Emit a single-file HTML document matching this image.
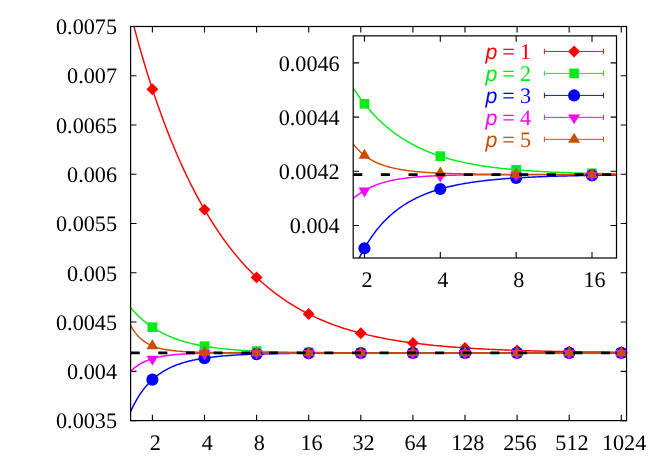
<!DOCTYPE html>
<html><head><meta charset="utf-8"><title>chart</title>
<style>
html,body{margin:0;padding:0;background:#fff;width:664px;height:465px;overflow:hidden}
body{font-family:"Liberation Serif",serif;position:relative}
svg text{font-family:"Liberation Serif",serif;text-rendering:geometricPrecision}
</style></head><body>
<svg width="664" height="465" viewBox="0 0 664 465" style="display:block;position:absolute;left:0;top:0;will-change:transform">
<rect width="664" height="465" fill="#fff"/>
<defs><clipPath id="cm"><rect x="130.60" y="26.50" width="495.95" height="394.10"/></clipPath>
<clipPath id="ci"><rect x="353.20" y="35.85" width="263.30" height="222.15"/></clipPath></defs>
<path d="M152.40,420.60 v-5.90 M152.40,26.50 v5.90 M204.50,420.60 v-5.90 M204.50,26.50 v5.90 M256.60,420.60 v-5.90 M256.60,26.50 v5.90 M308.70,420.60 v-5.90 M308.70,26.50 v5.90 M360.80,420.60 v-5.90 M360.80,26.50 v5.90 M412.90,420.60 v-5.90 M412.90,26.50 v5.90 M465.00,420.60 v-5.90 M465.00,26.50 v5.90 M517.10,420.60 v-5.90 M517.10,26.50 v5.90 M569.20,420.60 v-5.90 M569.20,26.50 v5.90 M621.30,420.60 v-5.90 M621.30,26.50 v5.90 M130.60,420.60 h5.90 M626.55,420.60 h-5.90 M130.60,371.34 h5.90 M626.55,371.34 h-5.90 M130.60,322.07 h5.90 M626.55,322.07 h-5.90 M130.60,272.81 h5.90 M626.55,272.81 h-5.90 M130.60,223.55 h5.90 M626.55,223.55 h-5.90 M130.60,174.29 h5.90 M626.55,174.29 h-5.90 M130.60,125.02 h5.90 M626.55,125.02 h-5.90 M130.60,75.76 h5.90 M626.55,75.76 h-5.90 M130.60,26.50 h5.90 M626.55,26.50 h-5.90" stroke="#000" stroke-width="1.1" fill="none"/>
<g clip-path="url(#cm)" fill="none" stroke-width="1.45">
<path d="M128.23,3.48 L130.31,12.01 L132.39,20.28 L134.48,28.32 L136.56,36.13 L138.64,43.73 L140.72,51.12 L142.81,58.32 L144.89,65.33 L146.97,72.16 L149.05,78.83 L151.14,85.33 L153.22,91.68 L155.30,97.87 L157.38,103.92 L159.47,109.82 L161.55,115.59 L163.63,121.23 L165.71,126.74 L167.80,132.13 L169.88,137.39 L171.96,142.54 L174.04,147.57 L176.13,152.49 L178.21,157.30 L180.29,162.01 L182.37,166.61 L184.46,171.10 L186.54,175.50 L188.62,179.80 L190.70,184.01 L192.79,188.12 L194.87,192.14 L196.95,196.07 L199.03,199.92 L201.12,203.67 L203.20,207.35 L205.28,210.94 L207.36,214.45 L209.45,217.88 L211.53,221.23 L213.61,224.51 L215.69,227.71 L217.78,230.84 L219.86,233.89 L221.94,236.88 L224.02,239.79 L226.11,242.64 L228.19,245.42 L230.27,248.14 L232.35,250.79 L234.44,253.38 L236.52,255.91 L238.60,258.38 L240.68,260.79 L242.77,263.15 L244.85,265.44 L246.93,267.69 L249.02,269.87 L251.10,272.01 L253.18,274.09 L255.26,276.12 L257.35,278.11 L259.43,280.04 L261.51,281.93 L263.59,283.77 L265.68,285.57 L267.76,287.32 L269.84,289.02 L271.92,290.69 L274.01,292.31 L276.09,293.90 L278.17,295.44 L280.25,296.95 L282.34,298.41 L284.42,299.84 L286.50,301.24 L288.58,302.60 L290.67,303.92 L292.75,305.21 L294.83,306.47 L296.91,307.70 L299.00,308.89 L301.08,310.06 L303.16,311.19 L305.24,312.29 L307.33,313.37 L309.41,314.42 L311.49,315.44 L313.57,316.44 L315.66,317.41 L317.74,318.35 L319.82,319.27 L321.90,320.17 L323.99,321.04 L326.07,321.89 L328.15,322.72 L330.23,323.53 L332.32,324.31 L334.40,325.08 L336.48,325.82 L338.56,326.55 L340.65,327.25 L342.73,327.94 L344.81,328.61 L346.89,329.26 L348.98,329.90 L351.06,330.52 L353.14,331.12 L355.22,331.70 L357.31,332.27 L359.39,332.83 L361.47,333.37 L363.55,333.90 L365.64,334.41 L367.72,334.91 L369.80,335.39 L371.88,335.86 L373.97,336.32 L376.05,336.77 L378.13,337.21 L380.21,337.63 L382.30,338.04 L384.38,338.44 L386.46,338.84 L388.54,339.22 L390.63,339.59 L392.71,339.95 L394.79,340.30 L396.87,340.64 L398.96,340.97 L401.04,341.29 L403.12,341.61 L405.20,341.91 L407.29,342.21 L409.37,342.50 L411.45,342.78 L413.54,343.06 L415.62,343.32 L417.70,343.58 L419.78,343.84 L421.87,344.08 L423.95,344.32 L426.03,344.56 L428.11,344.78 L430.20,345.00 L432.28,345.22 L434.36,345.43 L436.44,345.63 L438.53,345.83 L440.61,346.02 L442.69,346.21 L444.77,346.39 L446.86,346.57 L448.94,346.74 L451.02,346.91 L453.10,347.07 L455.19,347.23 L457.27,347.38 L459.35,347.53 L461.43,347.68 L463.52,347.82 L465.60,347.96 L467.68,348.09 L469.76,348.22 L471.85,348.35 L473.93,348.47 L476.01,348.60 L478.09,348.71 L480.18,348.83 L482.26,348.94 L484.34,349.05 L486.42,349.15 L488.51,349.25 L490.59,349.35 L492.67,349.45 L494.75,349.54 L496.84,349.63 L498.92,349.72 L501.00,349.81 L503.08,349.89 L505.17,349.98 L507.25,350.06 L509.33,350.13 L511.41,350.21 L513.50,350.28 L515.58,350.35 L517.66,350.42 L519.74,350.49 L521.83,350.56 L523.91,350.62 L525.99,350.68 L528.07,350.74 L530.16,350.80 L532.24,350.86 L534.32,350.91 L536.40,350.97 L538.49,351.02 L540.57,351.07 L542.65,351.12 L544.73,351.17 L546.82,351.22 L548.90,351.26 L550.98,351.31 L553.06,351.35 L555.15,351.39 L557.23,351.44 L559.31,351.48 L561.39,351.51 L563.48,351.55 L565.56,351.59 L567.64,351.63 L569.72,351.66 L571.81,351.69 L573.89,351.73 L575.97,351.76 L578.05,351.79 L580.14,351.82 L582.22,351.85 L584.30,351.88 L586.39,351.91 L588.47,351.93 L590.55,351.96 L592.63,351.99 L594.72,352.01 L596.80,352.03 L598.88,352.06 L600.96,352.08 L603.05,352.10 L605.13,352.13 L607.21,352.15 L609.29,352.17 L611.38,352.19 L613.46,352.21 L615.54,352.23 L617.62,352.24 L619.71,352.26 L621.79,352.28 L623.87,352.30 L625.95,352.31 L628.04,352.33" stroke="#ff0000"/>
<path d="M128.23,304.93 L130.31,307.44 L132.39,309.82 L134.48,312.07 L136.56,314.21 L138.64,316.23 L140.72,318.15 L142.81,319.97 L144.89,321.69 L146.97,323.33 L149.05,324.87 L151.14,326.34 L153.22,327.73 L155.30,329.05 L157.38,330.30 L159.47,331.48 L161.55,332.60 L163.63,333.66 L165.71,334.67 L167.80,335.62 L169.88,336.53 L171.96,337.38 L174.04,338.20 L176.13,338.97 L178.21,339.69 L180.29,340.39 L182.37,341.04 L184.46,341.66 L186.54,342.25 L188.62,342.81 L190.70,343.33 L192.79,343.84 L194.87,344.31 L196.95,344.76 L199.03,345.19 L201.12,345.59 L203.20,345.97 L205.28,346.33 L207.36,346.68 L209.45,347.00 L211.53,347.31 L213.61,347.60 L215.69,347.88 L217.78,348.14 L219.86,348.39 L221.94,348.63 L224.02,348.85 L226.11,349.06 L228.19,349.26 L230.27,349.46 L232.35,349.64 L234.44,349.81 L236.52,349.97 L238.60,350.12 L240.68,350.27 L242.77,350.40 L244.85,350.54 L246.93,350.66 L249.02,350.78 L251.10,350.89 L253.18,350.99 L255.26,351.09 L257.35,351.19 L259.43,351.28 L261.51,351.36 L263.59,351.44 L265.68,351.52 L267.76,351.59 L269.84,351.66 L271.92,351.72 L274.01,351.79 L276.09,351.84 L278.17,351.90 L280.25,351.95 L282.34,352.00 L284.42,352.05 L286.50,352.09 L288.58,352.14 L290.67,352.18 L292.75,352.21 L294.83,352.25 L296.91,352.28 L299.00,352.32 L301.08,352.35 L303.16,352.38 L305.24,352.40 L307.33,352.43 L309.41,352.45 L311.49,352.48 L313.57,352.50 L315.66,352.52 L317.74,352.54 L319.82,352.56 L321.90,352.58 L323.99,352.59 L326.07,352.61 L328.15,352.62 L330.23,352.64 L332.32,352.65 L334.40,352.67 L336.48,352.68 L338.56,352.69 L340.65,352.70 L342.73,352.71 L344.81,352.72 L346.89,352.73 L348.98,352.74 L351.06,352.75 L353.14,352.76 L355.22,352.76 L357.31,352.77 L359.39,352.78 L361.47,352.78 L363.55,352.79 L365.64,352.80 L367.72,352.80 L369.80,352.81 L371.88,352.81 L373.97,352.82 L376.05,352.82 L378.13,352.82 L380.21,352.83 L382.30,352.83 L384.38,352.84 L386.46,352.84 L388.54,352.84 L390.63,352.85 L392.71,352.85 L394.79,352.85 L396.87,352.85 L398.96,352.86 L401.04,352.86 L403.12,352.86 L405.20,352.86 L407.29,352.86 L409.37,352.87 L411.45,352.87 L413.54,352.87 L415.62,352.87 L417.70,352.87 L419.78,352.87 L421.87,352.88 L423.95,352.88 L426.03,352.88 L428.11,352.88 L430.20,352.88 L432.28,352.88 L434.36,352.88 L436.44,352.88 L438.53,352.88 L440.61,352.88 L442.69,352.89 L444.77,352.89 L446.86,352.89 L448.94,352.89 L451.02,352.89 L453.10,352.89 L455.19,352.89 L457.27,352.89 L459.35,352.89 L461.43,352.89 L463.52,352.89 L465.60,352.89 L467.68,352.89 L469.76,352.89 L471.85,352.89 L473.93,352.89 L476.01,352.89 L478.09,352.89 L480.18,352.89 L482.26,352.89 L484.34,352.90 L486.42,352.90 L488.51,352.90 L490.59,352.90 L492.67,352.90 L494.75,352.90 L496.84,352.90 L498.92,352.90 L501.00,352.90 L503.08,352.90 L505.17,352.90 L507.25,352.90 L509.33,352.90 L511.41,352.90 L513.50,352.90 L515.58,352.90 L517.66,352.90 L519.74,352.90 L521.83,352.90 L523.91,352.90 L525.99,352.90 L528.07,352.90 L530.16,352.90 L532.24,352.90 L534.32,352.90 L536.40,352.90 L538.49,352.90 L540.57,352.90 L542.65,352.90 L544.73,352.90 L546.82,352.90 L548.90,352.90 L550.98,352.90 L553.06,352.90 L555.15,352.90 L557.23,352.90 L559.31,352.90 L561.39,352.90 L563.48,352.90 L565.56,352.90 L567.64,352.90 L569.72,352.90 L571.81,352.90 L573.89,352.90 L575.97,352.90 L578.05,352.90 L580.14,352.90 L582.22,352.90 L584.30,352.90 L586.39,352.90 L588.47,352.90 L590.55,352.90 L592.63,352.90 L594.72,352.90 L596.80,352.90 L598.88,352.90 L600.96,352.90 L603.05,352.90 L605.13,352.90 L607.21,352.90 L609.29,352.90 L611.38,352.90 L613.46,352.90 L615.54,352.90 L617.62,352.90 L619.71,352.90 L621.79,352.90 L623.87,352.90 L625.95,352.90 L628.04,352.90" stroke="#00ec18"/>
<path d="M128.23,417.04 L130.31,412.16 L132.39,407.68 L134.48,403.58 L136.56,399.83 L138.64,396.38 L140.72,393.21 L142.81,390.31 L144.89,387.63 L146.97,385.17 L149.05,382.90 L151.14,380.81 L153.22,378.89 L155.30,377.11 L157.38,375.46 L159.47,373.94 L161.55,372.54 L163.63,371.24 L165.71,370.03 L167.80,368.91 L169.88,367.88 L171.96,366.91 L174.04,366.02 L176.13,365.19 L178.21,364.41 L180.29,363.69 L182.37,363.02 L184.46,362.40 L186.54,361.81 L188.62,361.27 L190.70,360.76 L192.79,360.28 L194.87,359.84 L196.95,359.42 L199.03,359.04 L201.12,358.67 L203.20,358.33 L205.28,358.01 L207.36,357.71 L209.45,357.43 L211.53,357.17 L213.61,356.92 L215.69,356.69 L217.78,356.47 L219.86,356.27 L221.94,356.07 L224.02,355.89 L226.11,355.72 L228.19,355.56 L230.27,355.41 L232.35,355.27 L234.44,355.14 L236.52,355.01 L238.60,354.89 L240.68,354.78 L242.77,354.68 L244.85,354.58 L246.93,354.48 L249.02,354.40 L251.10,354.31 L253.18,354.24 L255.26,354.16 L257.35,354.09 L259.43,354.03 L261.51,353.96 L263.59,353.91 L265.68,353.85 L267.76,353.80 L269.84,353.75 L271.92,353.70 L274.01,353.66 L276.09,353.62 L278.17,353.58 L280.25,353.54 L282.34,353.51 L284.42,353.47 L286.50,353.44 L288.58,353.41 L290.67,353.38 L292.75,353.36 L294.83,353.33 L296.91,353.31 L299.00,353.29 L301.08,353.27 L303.16,353.25 L305.24,353.23 L307.33,353.21 L309.41,353.19 L311.49,353.18 L313.57,353.16 L315.66,353.15 L317.74,353.13 L319.82,353.12 L321.90,353.11 L323.99,353.10 L326.07,353.09 L328.15,353.08 L330.23,353.07 L332.32,353.06 L334.40,353.05 L336.48,353.04 L338.56,353.03 L340.65,353.03 L342.73,353.02 L344.81,353.01 L346.89,353.01 L348.98,353.00 L351.06,353.00 L353.14,352.99 L355.22,352.99 L357.31,352.98 L359.39,352.98 L361.47,352.97 L363.55,352.97 L365.64,352.97 L367.72,352.96 L369.80,352.96 L371.88,352.96 L373.97,352.95 L376.05,352.95 L378.13,352.95 L380.21,352.94 L382.30,352.94 L384.38,352.94 L386.46,352.94 L388.54,352.94 L390.63,352.93 L392.71,352.93 L394.79,352.93 L396.87,352.93 L398.96,352.93 L401.04,352.93 L403.12,352.92 L405.20,352.92 L407.29,352.92 L409.37,352.92 L411.45,352.92 L413.54,352.92 L415.62,352.92 L417.70,352.92 L419.78,352.92 L421.87,352.91 L423.95,352.91 L426.03,352.91 L428.11,352.91 L430.20,352.91 L432.28,352.91 L434.36,352.91 L436.44,352.91 L438.53,352.91 L440.61,352.91 L442.69,352.91 L444.77,352.91 L446.86,352.91 L448.94,352.91 L451.02,352.91 L453.10,352.91 L455.19,352.91 L457.27,352.91 L459.35,352.91 L461.43,352.91 L463.52,352.90 L465.60,352.90 L467.68,352.90 L469.76,352.90 L471.85,352.90 L473.93,352.90 L476.01,352.90 L478.09,352.90 L480.18,352.90 L482.26,352.90 L484.34,352.90 L486.42,352.90 L488.51,352.90 L490.59,352.90 L492.67,352.90 L494.75,352.90 L496.84,352.90 L498.92,352.90 L501.00,352.90 L503.08,352.90 L505.17,352.90 L507.25,352.90 L509.33,352.90 L511.41,352.90 L513.50,352.90 L515.58,352.90 L517.66,352.90 L519.74,352.90 L521.83,352.90 L523.91,352.90 L525.99,352.90 L528.07,352.90 L530.16,352.90 L532.24,352.90 L534.32,352.90 L536.40,352.90 L538.49,352.90 L540.57,352.90 L542.65,352.90 L544.73,352.90 L546.82,352.90 L548.90,352.90 L550.98,352.90 L553.06,352.90 L555.15,352.90 L557.23,352.90 L559.31,352.90 L561.39,352.90 L563.48,352.90 L565.56,352.90 L567.64,352.90 L569.72,352.90 L571.81,352.90 L573.89,352.90 L575.97,352.90 L578.05,352.90 L580.14,352.90 L582.22,352.90 L584.30,352.90 L586.39,352.90 L588.47,352.90 L590.55,352.90 L592.63,352.90 L594.72,352.90 L596.80,352.90 L598.88,352.90 L600.96,352.90 L603.05,352.90 L605.13,352.90 L607.21,352.90 L609.29,352.90 L611.38,352.90 L613.46,352.90 L615.54,352.90 L617.62,352.90 L619.71,352.90 L621.79,352.90 L623.87,352.90 L625.95,352.90 L628.04,352.90" stroke="#0000ff"/>
<path d="M128.23,373.80 L130.31,371.60 L132.39,369.64 L134.48,367.89 L136.56,366.31 L138.64,364.91 L140.72,363.65 L142.81,362.52 L144.89,361.51 L146.97,360.61 L149.05,359.80 L151.14,359.07 L153.22,358.43 L155.30,357.85 L157.38,357.33 L159.47,356.86 L161.55,356.45 L163.63,356.08 L165.71,355.74 L167.80,355.44 L169.88,355.18 L171.96,354.94 L174.04,354.72 L176.13,354.53 L178.21,354.36 L180.29,354.21 L182.37,354.07 L184.46,353.95 L186.54,353.84 L188.62,353.74 L190.70,353.65 L192.79,353.57 L194.87,353.50 L196.95,353.44 L199.03,353.38 L201.12,353.33 L203.20,353.29 L205.28,353.25 L207.36,353.21 L209.45,353.18 L211.53,353.15 L213.61,353.12 L215.69,353.10 L217.78,353.08 L219.86,353.06 L221.94,353.04 L224.02,353.03 L226.11,353.01 L228.19,353.00 L230.27,352.99 L232.35,352.98 L234.44,352.97 L236.52,352.97 L238.60,352.96 L240.68,352.95 L242.77,352.95 L244.85,352.94 L246.93,352.94 L249.02,352.93 L251.10,352.93 L253.18,352.93 L255.26,352.92 L257.35,352.92 L259.43,352.92 L261.51,352.92 L263.59,352.92 L265.68,352.91 L267.76,352.91 L269.84,352.91 L271.92,352.91 L274.01,352.91 L276.09,352.91 L278.17,352.91 L280.25,352.91 L282.34,352.91 L284.42,352.91 L286.50,352.90 L288.58,352.90 L290.67,352.90 L292.75,352.90 L294.83,352.90 L296.91,352.90 L299.00,352.90 L301.08,352.90 L303.16,352.90 L305.24,352.90 L307.33,352.90 L309.41,352.90 L311.49,352.90 L313.57,352.90 L315.66,352.90 L317.74,352.90 L319.82,352.90 L321.90,352.90 L323.99,352.90 L326.07,352.90 L328.15,352.90 L330.23,352.90 L332.32,352.90 L334.40,352.90 L336.48,352.90 L338.56,352.90 L340.65,352.90 L342.73,352.90 L344.81,352.90 L346.89,352.90 L348.98,352.90 L351.06,352.90 L353.14,352.90 L355.22,352.90 L357.31,352.90 L359.39,352.90 L361.47,352.90 L363.55,352.90 L365.64,352.90 L367.72,352.90 L369.80,352.90 L371.88,352.90 L373.97,352.90 L376.05,352.90 L378.13,352.90 L380.21,352.90 L382.30,352.90 L384.38,352.90 L386.46,352.90 L388.54,352.90 L390.63,352.90 L392.71,352.90 L394.79,352.90 L396.87,352.90 L398.96,352.90 L401.04,352.90 L403.12,352.90 L405.20,352.90 L407.29,352.90 L409.37,352.90 L411.45,352.90 L413.54,352.90 L415.62,352.90 L417.70,352.90 L419.78,352.90 L421.87,352.90 L423.95,352.90 L426.03,352.90 L428.11,352.90 L430.20,352.90 L432.28,352.90 L434.36,352.90 L436.44,352.90 L438.53,352.90 L440.61,352.90 L442.69,352.90 L444.77,352.90 L446.86,352.90 L448.94,352.90 L451.02,352.90 L453.10,352.90 L455.19,352.90 L457.27,352.90 L459.35,352.90 L461.43,352.90 L463.52,352.90 L465.60,352.90 L467.68,352.90 L469.76,352.90 L471.85,352.90 L473.93,352.90 L476.01,352.90 L478.09,352.90 L480.18,352.90 L482.26,352.90 L484.34,352.90 L486.42,352.90 L488.51,352.90 L490.59,352.90 L492.67,352.90 L494.75,352.90 L496.84,352.90 L498.92,352.90 L501.00,352.90 L503.08,352.90 L505.17,352.90 L507.25,352.90 L509.33,352.90 L511.41,352.90 L513.50,352.90 L515.58,352.90 L517.66,352.90 L519.74,352.90 L521.83,352.90 L523.91,352.90 L525.99,352.90 L528.07,352.90 L530.16,352.90 L532.24,352.90 L534.32,352.90 L536.40,352.90 L538.49,352.90 L540.57,352.90 L542.65,352.90 L544.73,352.90 L546.82,352.90 L548.90,352.90 L550.98,352.90 L553.06,352.90 L555.15,352.90 L557.23,352.90 L559.31,352.90 L561.39,352.90 L563.48,352.90 L565.56,352.90 L567.64,352.90 L569.72,352.90 L571.81,352.90 L573.89,352.90 L575.97,352.90 L578.05,352.90 L580.14,352.90 L582.22,352.90 L584.30,352.90 L586.39,352.90 L588.47,352.90 L590.55,352.90 L592.63,352.90 L594.72,352.90 L596.80,352.90 L598.88,352.90 L600.96,352.90 L603.05,352.90 L605.13,352.90 L607.21,352.90 L609.29,352.90 L611.38,352.90 L613.46,352.90 L615.54,352.90 L617.62,352.90 L619.71,352.90 L621.79,352.90 L623.87,352.90 L625.95,352.90 L628.04,352.90" stroke="#ff00ff"/>
<path d="M128.23,320.75 L130.31,324.95 L132.39,328.57 L134.48,331.68 L136.56,334.37 L138.64,336.69 L140.72,338.69 L142.81,340.43 L144.89,341.93 L146.97,343.24 L149.05,344.38 L151.14,345.37 L153.22,346.23 L155.30,346.99 L157.38,347.65 L159.47,348.22 L161.55,348.73 L163.63,349.18 L165.71,349.57 L167.80,349.92 L169.88,350.23 L171.96,350.50 L174.04,350.74 L176.13,350.96 L178.21,351.15 L180.29,351.32 L182.37,351.47 L184.46,351.60 L186.54,351.73 L188.62,351.84 L190.70,351.93 L192.79,352.02 L194.87,352.10 L196.95,352.17 L199.03,352.24 L201.12,352.30 L203.20,352.35 L205.28,352.40 L207.36,352.44 L209.45,352.48 L211.53,352.52 L213.61,352.55 L215.69,352.58 L217.78,352.61 L219.86,352.63 L221.94,352.65 L224.02,352.67 L226.11,352.69 L228.19,352.71 L230.27,352.73 L232.35,352.74 L234.44,352.75 L236.52,352.77 L238.60,352.78 L240.68,352.79 L242.77,352.80 L244.85,352.80 L246.93,352.81 L249.02,352.82 L251.10,352.83 L253.18,352.83 L255.26,352.84 L257.35,352.84 L259.43,352.85 L261.51,352.85 L263.59,352.86 L265.68,352.86 L267.76,352.86 L269.84,352.87 L271.92,352.87 L274.01,352.87 L276.09,352.87 L278.17,352.88 L280.25,352.88 L282.34,352.88 L284.42,352.88 L286.50,352.88 L288.58,352.88 L290.67,352.88 L292.75,352.89 L294.83,352.89 L296.91,352.89 L299.00,352.89 L301.08,352.89 L303.16,352.89 L305.24,352.89 L307.33,352.89 L309.41,352.89 L311.49,352.89 L313.57,352.89 L315.66,352.89 L317.74,352.89 L319.82,352.90 L321.90,352.90 L323.99,352.90 L326.07,352.90 L328.15,352.90 L330.23,352.90 L332.32,352.90 L334.40,352.90 L336.48,352.90 L338.56,352.90 L340.65,352.90 L342.73,352.90 L344.81,352.90 L346.89,352.90 L348.98,352.90 L351.06,352.90 L353.14,352.90 L355.22,352.90 L357.31,352.90 L359.39,352.90 L361.47,352.90 L363.55,352.90 L365.64,352.90 L367.72,352.90 L369.80,352.90 L371.88,352.90 L373.97,352.90 L376.05,352.90 L378.13,352.90 L380.21,352.90 L382.30,352.90 L384.38,352.90 L386.46,352.90 L388.54,352.90 L390.63,352.90 L392.71,352.90 L394.79,352.90 L396.87,352.90 L398.96,352.90 L401.04,352.90 L403.12,352.90 L405.20,352.90 L407.29,352.90 L409.37,352.90 L411.45,352.90 L413.54,352.90 L415.62,352.90 L417.70,352.90 L419.78,352.90 L421.87,352.90 L423.95,352.90 L426.03,352.90 L428.11,352.90 L430.20,352.90 L432.28,352.90 L434.36,352.90 L436.44,352.90 L438.53,352.90 L440.61,352.90 L442.69,352.90 L444.77,352.90 L446.86,352.90 L448.94,352.90 L451.02,352.90 L453.10,352.90 L455.19,352.90 L457.27,352.90 L459.35,352.90 L461.43,352.90 L463.52,352.90 L465.60,352.90 L467.68,352.90 L469.76,352.90 L471.85,352.90 L473.93,352.90 L476.01,352.90 L478.09,352.90 L480.18,352.90 L482.26,352.90 L484.34,352.90 L486.42,352.90 L488.51,352.90 L490.59,352.90 L492.67,352.90 L494.75,352.90 L496.84,352.90 L498.92,352.90 L501.00,352.90 L503.08,352.90 L505.17,352.90 L507.25,352.90 L509.33,352.90 L511.41,352.90 L513.50,352.90 L515.58,352.90 L517.66,352.90 L519.74,352.90 L521.83,352.90 L523.91,352.90 L525.99,352.90 L528.07,352.90 L530.16,352.90 L532.24,352.90 L534.32,352.90 L536.40,352.90 L538.49,352.90 L540.57,352.90 L542.65,352.90 L544.73,352.90 L546.82,352.90 L548.90,352.90 L550.98,352.90 L553.06,352.90 L555.15,352.90 L557.23,352.90 L559.31,352.90 L561.39,352.90 L563.48,352.90 L565.56,352.90 L567.64,352.90 L569.72,352.90 L571.81,352.90 L573.89,352.90 L575.97,352.90 L578.05,352.90 L580.14,352.90 L582.22,352.90 L584.30,352.90 L586.39,352.90 L588.47,352.90 L590.55,352.90 L592.63,352.90 L594.72,352.90 L596.80,352.90 L598.88,352.90 L600.96,352.90 L603.05,352.90 L605.13,352.90 L607.21,352.90 L609.29,352.90 L611.38,352.90 L613.46,352.90 L615.54,352.90 L617.62,352.90 L619.71,352.90 L621.79,352.90 L623.87,352.90 L625.95,352.90 L628.04,352.90" stroke="#cc4c00"/>
<path d="M287.08,352.88 L292.76,352.89 L298.44,352.89 L304.12,352.89 L309.81,352.89 L315.49,352.89 L321.17,352.90 L326.86,352.90 L332.54,352.90 L338.22,352.90 L343.90,352.90 L349.59,352.90 L355.27,352.90 L360.95,352.90 L366.63,352.90 L372.32,352.90 L378.00,352.90 L383.68,352.90 L389.36,352.90 L395.05,352.90 L400.73,352.90 L406.41,352.90 L412.09,352.90 L417.78,352.90 L423.46,352.90 L429.14,352.90 L434.83,352.90 L440.51,352.90 L446.19,352.90 L451.87,352.90 L457.56,352.90 L463.24,352.90 L468.92,352.90 L474.60,352.90 L480.29,352.90 L485.97,352.90 L491.65,352.90 L497.33,352.90 L503.02,352.90 L508.70,352.90 L514.38,352.90 L520.07,352.90 L525.75,352.90 L531.43,352.90 L537.11,352.90 L542.80,352.90 L548.48,352.90 L554.16,352.90 L559.84,352.90 L565.53,352.90 L571.21,352.90 L576.89,352.90 L582.57,352.90 L588.26,352.90 L593.94,352.90 L599.62,352.90 L605.31,352.90 L610.99,352.90 L616.67,352.90 L622.35,352.90 L628.04,352.90" stroke="#cc4c00" stroke-width="1.6" stroke-opacity="0.55"/>
</g>
<path d="M152.40,83.25 l5.95,5.95 l-5.95,5.95 l-5.95,-5.95 z" fill="#ff0000"/>
<path d="M204.50,203.65 l5.95,5.95 l-5.95,5.95 l-5.95,-5.95 z" fill="#ff0000"/>
<path d="M256.60,271.45 l5.95,5.95 l-5.95,5.95 l-5.95,-5.95 z" fill="#ff0000"/>
<path d="M308.70,308.12 l5.95,5.95 l-5.95,5.95 l-5.95,-5.95 z" fill="#ff0000"/>
<path d="M360.80,327.25 l5.95,5.95 l-5.95,5.95 l-5.95,-5.95 z" fill="#ff0000"/>
<path d="M412.90,337.02 l5.95,5.95 l-5.95,5.95 l-5.95,-5.95 z" fill="#ff0000"/>
<path d="M465.00,341.97 l5.95,5.95 l-5.95,5.95 l-5.95,-5.95 z" fill="#ff0000"/>
<path d="M517.10,344.45 l5.95,5.95 l-5.95,5.95 l-5.95,-5.95 z" fill="#ff0000"/>
<path d="M569.20,345.70 l5.95,5.95 l-5.95,5.95 l-5.95,-5.95 z" fill="#ff0000"/>
<path d="M621.30,346.33 l5.95,5.95 l-5.95,5.95 l-5.95,-5.95 z" fill="#ff0000"/>
<rect x="147.55" y="322.34" width="9.70" height="9.70" fill="#00ec18"/>
<rect x="199.65" y="341.35" width="9.70" height="9.70" fill="#00ec18"/>
<rect x="251.75" y="346.30" width="9.70" height="9.70" fill="#00ec18"/>
<rect x="303.85" y="347.59" width="9.70" height="9.70" fill="#00ec18"/>
<rect x="355.95" y="347.93" width="9.70" height="9.70" fill="#00ec18"/>
<rect x="408.05" y="348.02" width="9.70" height="9.70" fill="#00ec18"/>
<rect x="460.15" y="348.04" width="9.70" height="9.70" fill="#00ec18"/>
<rect x="512.25" y="348.05" width="9.70" height="9.70" fill="#00ec18"/>
<rect x="564.35" y="348.05" width="9.70" height="9.70" fill="#00ec18"/>
<rect x="616.45" y="348.05" width="9.70" height="9.70" fill="#00ec18"/>
<circle cx="152.40" cy="379.63" r="6.05" fill="#0000ff"/>
<circle cx="204.50" cy="358.13" r="6.05" fill="#0000ff"/>
<circle cx="256.60" cy="354.12" r="6.05" fill="#0000ff"/>
<circle cx="308.70" cy="353.20" r="6.05" fill="#0000ff"/>
<circle cx="360.80" cy="352.97" r="6.05" fill="#0000ff"/>
<circle cx="412.90" cy="352.92" r="6.05" fill="#0000ff"/>
<circle cx="465.00" cy="352.90" r="6.05" fill="#0000ff"/>
<circle cx="517.10" cy="352.90" r="6.05" fill="#0000ff"/>
<circle cx="569.20" cy="352.90" r="6.05" fill="#0000ff"/>
<circle cx="621.30" cy="352.90" r="6.05" fill="#0000ff"/>
<path d="M152.40,365.57 L146.45,355.72 L158.35,355.72 z" fill="#ff00ff"/>
<path d="M204.50,360.16 L198.55,350.31 L210.45,350.31 z" fill="#ff00ff"/>
<path d="M256.60,359.82 L250.65,349.97 L262.55,349.97 z" fill="#ff00ff"/>
<path d="M308.70,359.80 L302.75,349.95 L314.65,349.95 z" fill="#ff00ff"/>
<path d="M360.80,359.80 L354.85,349.95 L366.75,349.95 z" fill="#ff00ff"/>
<path d="M412.90,359.80 L406.95,349.95 L418.85,349.95 z" fill="#ff00ff"/>
<path d="M465.00,359.80 L459.05,349.95 L470.95,349.95 z" fill="#ff00ff"/>
<path d="M517.10,359.80 L511.15,349.95 L523.05,349.95 z" fill="#ff00ff"/>
<path d="M569.20,359.80 L563.25,349.95 L575.15,349.95 z" fill="#ff00ff"/>
<path d="M621.30,359.80 L615.35,349.95 L627.25,349.95 z" fill="#ff00ff"/>
<path d="M152.40,339.31 L146.45,349.21 L158.35,349.21 z" fill="#cc4c00"/>
<path d="M204.50,345.78 L198.55,355.68 L210.45,355.68 z" fill="#cc4c00"/>
<path d="M256.60,346.24 L250.65,356.14 L262.55,356.14 z" fill="#cc4c00"/>
<path d="M308.70,346.29 L302.75,356.19 L314.65,356.19 z" fill="#cc4c00"/>
<path d="M360.80,346.30 L354.85,356.20 L366.75,356.20 z" fill="#cc4c00"/>
<path d="M412.90,346.30 L406.95,356.20 L418.85,356.20 z" fill="#cc4c00"/>
<path d="M465.00,346.30 L459.05,356.20 L470.95,356.20 z" fill="#cc4c00"/>
<path d="M517.10,346.30 L511.15,356.20 L523.05,356.20 z" fill="#cc4c00"/>
<path d="M569.20,346.30 L563.25,356.20 L575.15,356.20 z" fill="#cc4c00"/>
<path d="M621.30,346.30 L615.35,356.20 L627.25,356.20 z" fill="#cc4c00"/>
<path d="M130.60,352.90 H626.55" stroke="#000" stroke-width="2.6" stroke-dasharray="9.1 18.57" fill="none"/>
<rect x="130.60" y="26.50" width="495.95" height="394.10" fill="none" stroke="#000" stroke-width="1.2"/>
<rect x="353.20" y="35.85" width="263.30" height="222.15" fill="#fff"/>
<path d="M364.45,258.00 v-5.90 M364.45,35.85 v5.90 M440.30,258.00 v-5.90 M440.30,35.85 v5.90 M516.15,258.00 v-5.90 M516.15,35.85 v5.90 M592.00,258.00 v-5.90 M592.00,35.85 v5.90 M353.20,225.50 h5.90 M616.50,225.50 h-5.90 M353.20,171.30 h5.90 M616.50,171.30 h-5.90 M353.20,117.10 h5.90 M616.50,117.10 h-5.90 M353.20,62.90 h5.90 M616.50,62.90 h-5.90" stroke="#000" stroke-width="1.1" fill="none"/>
<g clip-path="url(#ci)" fill="none" stroke-width="1.45">
<path d="M346.67,77.56 L347.81,79.51 L348.96,81.42 L350.10,83.30 L351.25,85.13 L352.40,86.93 L353.54,88.70 L354.69,90.42 L355.84,92.12 L356.98,93.78 L358.13,95.40 L359.27,97.00 L360.42,98.56 L361.57,100.09 L362.71,101.59 L363.86,103.05 L365.01,104.49 L366.15,105.90 L367.30,107.29 L368.44,108.64 L369.59,109.97 L370.74,111.27 L371.88,112.54 L373.03,113.79 L374.17,115.01 L375.32,116.21 L376.47,117.39 L377.61,118.54 L378.76,119.66 L379.91,120.77 L381.05,121.85 L382.20,122.91 L383.34,123.95 L384.49,124.97 L385.64,125.97 L386.78,126.95 L387.93,127.91 L389.08,128.85 L390.22,129.77 L391.37,130.67 L392.51,131.55 L393.66,132.42 L394.81,133.27 L395.95,134.10 L397.10,134.91 L398.25,135.71 L399.39,136.49 L400.54,137.26 L401.68,138.01 L402.83,138.75 L403.98,139.47 L405.12,140.17 L406.27,140.87 L407.42,141.55 L408.56,142.21 L409.71,142.86 L410.85,143.50 L412.00,144.13 L413.15,144.74 L414.29,145.34 L415.44,145.93 L416.58,146.51 L417.73,147.07 L418.88,147.62 L420.02,148.17 L421.17,148.70 L422.32,149.22 L423.46,149.73 L424.61,150.23 L425.75,150.72 L426.90,151.20 L428.05,151.67 L429.19,152.13 L430.34,152.58 L431.49,153.03 L432.63,153.46 L433.78,153.89 L434.92,154.30 L436.07,154.71 L437.22,155.11 L438.36,155.50 L439.51,155.89 L440.66,156.26 L441.80,156.63 L442.95,156.99 L444.09,157.35 L445.24,157.70 L446.39,158.04 L447.53,158.37 L448.68,158.70 L449.83,159.02 L450.97,159.33 L452.12,159.64 L453.26,159.94 L454.41,160.23 L455.56,160.52 L456.70,160.80 L457.85,161.08 L458.99,161.35 L460.14,161.62 L461.29,161.88 L462.43,162.14 L463.58,162.39 L464.73,162.63 L465.87,162.87 L467.02,163.11 L468.16,163.34 L469.31,163.57 L470.46,163.79 L471.60,164.01 L472.75,164.22 L473.90,164.43 L475.04,164.63 L476.19,164.83 L477.33,165.03 L478.48,165.22 L479.63,165.41 L480.77,165.60 L481.92,165.78 L483.07,165.95 L484.21,166.13 L485.36,166.30 L486.50,166.47 L487.65,166.63 L488.80,166.79 L489.94,166.95 L491.09,167.10 L492.24,167.25 L493.38,167.40 L494.53,167.54 L495.67,167.69 L496.82,167.83 L497.97,167.96 L499.11,168.10 L500.26,168.23 L501.40,168.35 L502.55,168.48 L503.70,168.60 L504.84,168.72 L505.99,168.84 L507.14,168.96 L508.28,169.07 L509.43,169.18 L510.57,169.29 L511.72,169.40 L512.87,169.50 L514.01,169.61 L515.16,169.71 L516.31,169.80 L517.45,169.90 L518.60,170.00 L519.74,170.09 L520.89,170.18 L522.04,170.27 L523.18,170.35 L524.33,170.44 L525.48,170.52 L526.62,170.61 L527.77,170.69 L528.91,170.77 L530.06,170.84 L531.21,170.92 L532.35,170.99 L533.50,171.06 L534.64,171.14 L535.79,171.21 L536.94,171.27 L538.08,171.34 L539.23,171.41 L540.38,171.47 L541.52,171.53 L542.67,171.59 L543.81,171.66 L544.96,171.71 L546.11,171.77 L547.25,171.83 L548.40,171.89 L549.55,171.94 L550.69,171.99 L551.84,172.05 L552.98,172.10 L554.13,172.15 L555.28,172.20 L556.42,172.25 L557.57,172.29 L558.72,172.34 L559.86,172.38 L561.01,172.43 L562.15,172.47 L563.30,172.52 L564.45,172.56 L565.59,172.60 L566.74,172.64 L567.89,172.68 L569.03,172.72 L570.18,172.75 L571.32,172.79 L572.47,172.83 L573.62,172.86 L574.76,172.90 L575.91,172.93 L577.05,172.97 L578.20,173.00 L579.35,173.03 L580.49,173.06 L581.64,173.09 L582.79,173.12 L583.93,173.15 L585.08,173.18 L586.22,173.21 L587.37,173.24 L588.52,173.27 L589.66,173.29 L590.81,173.32 L591.96,173.35 L593.10,173.37 L594.25,173.40 L595.39,173.42 L596.54,173.44 L597.69,173.47 L598.83,173.49 L599.98,173.51 L601.13,173.53 L602.27,173.56 L603.42,173.58 L604.56,173.60 L605.71,173.62 L606.86,173.64 L608.00,173.66 L609.15,173.68 L610.30,173.69 L611.44,173.71 L612.59,173.73 L613.73,173.75 L614.88,173.76 L616.03,173.78 L617.17,173.80 L618.32,173.81 L619.46,173.83 L620.61,173.85 L621.76,173.86" stroke="#00ec18"/>
<path d="M346.67,287.82 L347.81,284.64 L348.96,281.56 L350.10,278.58 L351.25,275.70 L352.40,272.90 L353.54,270.19 L354.69,267.56 L355.84,265.01 L356.98,262.55 L358.13,260.15 L359.27,257.84 L360.42,255.59 L361.57,253.41 L362.71,251.29 L363.86,249.24 L365.01,247.25 L366.15,245.32 L367.30,243.45 L368.44,241.63 L369.59,239.87 L370.74,238.15 L371.88,236.49 L373.03,234.88 L374.17,233.31 L375.32,231.79 L376.47,230.31 L377.61,228.88 L378.76,227.49 L379.91,226.13 L381.05,224.82 L382.20,223.54 L383.34,222.30 L384.49,221.10 L385.64,219.92 L386.78,218.78 L387.93,217.68 L389.08,216.60 L390.22,215.55 L391.37,214.54 L392.51,213.55 L393.66,212.58 L394.81,211.65 L395.95,210.74 L397.10,209.85 L398.25,208.99 L399.39,208.15 L400.54,207.33 L401.68,206.54 L402.83,205.77 L403.98,205.01 L405.12,204.28 L406.27,203.57 L407.42,202.87 L408.56,202.20 L409.71,201.54 L410.85,200.90 L412.00,200.27 L413.15,199.66 L414.29,199.07 L415.44,198.49 L416.58,197.93 L417.73,197.38 L418.88,196.85 L420.02,196.33 L421.17,195.82 L422.32,195.33 L423.46,194.85 L424.61,194.38 L425.75,193.92 L426.90,193.47 L428.05,193.04 L429.19,192.61 L430.34,192.20 L431.49,191.79 L432.63,191.40 L433.78,191.02 L434.92,190.64 L436.07,190.28 L437.22,189.92 L438.36,189.57 L439.51,189.23 L440.66,188.90 L441.80,188.58 L442.95,188.26 L444.09,187.95 L445.24,187.65 L446.39,187.36 L447.53,187.07 L448.68,186.79 L449.83,186.52 L450.97,186.26 L452.12,186.00 L453.26,185.74 L454.41,185.49 L455.56,185.25 L456.70,185.02 L457.85,184.78 L458.99,184.56 L460.14,184.34 L461.29,184.12 L462.43,183.91 L463.58,183.71 L464.73,183.51 L465.87,183.31 L467.02,183.12 L468.16,182.93 L469.31,182.75 L470.46,182.57 L471.60,182.40 L472.75,182.23 L473.90,182.06 L475.04,181.90 L476.19,181.74 L477.33,181.59 L478.48,181.43 L479.63,181.29 L480.77,181.14 L481.92,181.00 L483.07,180.86 L484.21,180.72 L485.36,180.59 L486.50,180.46 L487.65,180.34 L488.80,180.21 L489.94,180.09 L491.09,179.97 L492.24,179.86 L493.38,179.74 L494.53,179.63 L495.67,179.53 L496.82,179.42 L497.97,179.32 L499.11,179.22 L500.26,179.12 L501.40,179.02 L502.55,178.93 L503.70,178.83 L504.84,178.74 L505.99,178.65 L507.14,178.57 L508.28,178.48 L509.43,178.40 L510.57,178.32 L511.72,178.24 L512.87,178.16 L514.01,178.09 L515.16,178.01 L516.31,177.94 L517.45,177.87 L518.60,177.80 L519.74,177.73 L520.89,177.67 L522.04,177.60 L523.18,177.54 L524.33,177.48 L525.48,177.41 L526.62,177.35 L527.77,177.30 L528.91,177.24 L530.06,177.18 L531.21,177.13 L532.35,177.08 L533.50,177.02 L534.64,176.97 L535.79,176.92 L536.94,176.87 L538.08,176.83 L539.23,176.78 L540.38,176.73 L541.52,176.69 L542.67,176.64 L543.81,176.60 L544.96,176.56 L546.11,176.52 L547.25,176.48 L548.40,176.44 L549.55,176.40 L550.69,176.36 L551.84,176.32 L552.98,176.29 L554.13,176.25 L555.28,176.22 L556.42,176.18 L557.57,176.15 L558.72,176.12 L559.86,176.09 L561.01,176.06 L562.15,176.02 L563.30,175.99 L564.45,175.97 L565.59,175.94 L566.74,175.91 L567.89,175.88 L569.03,175.85 L570.18,175.83 L571.32,175.80 L572.47,175.78 L573.62,175.75 L574.76,175.73 L575.91,175.71 L577.05,175.68 L578.20,175.66 L579.35,175.64 L580.49,175.62 L581.64,175.59 L582.79,175.57 L583.93,175.55 L585.08,175.53 L586.22,175.51 L587.37,175.50 L588.52,175.48 L589.66,175.46 L590.81,175.44 L591.96,175.42 L593.10,175.41 L594.25,175.39 L595.39,175.37 L596.54,175.36 L597.69,175.34 L598.83,175.32 L599.98,175.31 L601.13,175.30 L602.27,175.28 L603.42,175.27 L604.56,175.25 L605.71,175.24 L606.86,175.23 L608.00,175.21 L609.15,175.20 L610.30,175.19 L611.44,175.18 L612.59,175.16 L613.73,175.15 L614.88,175.14 L616.03,175.13 L617.17,175.12 L618.32,175.11 L619.46,175.10 L620.61,175.09 L621.76,175.08" stroke="#0000ff"/>
<path d="M346.67,205.06 L347.81,203.81 L348.96,202.61 L350.10,201.46 L351.25,200.36 L352.40,199.30 L353.54,198.29 L354.69,197.32 L355.84,196.38 L356.98,195.49 L358.13,194.63 L359.27,193.81 L360.42,193.02 L361.57,192.27 L362.71,191.54 L363.86,190.85 L365.01,190.18 L366.15,189.54 L367.30,188.93 L368.44,188.34 L369.59,187.78 L370.74,187.24 L371.88,186.72 L373.03,186.22 L374.17,185.74 L375.32,185.29 L376.47,184.85 L377.61,184.43 L378.76,184.02 L379.91,183.64 L381.05,183.27 L382.20,182.91 L383.34,182.57 L384.49,182.24 L385.64,181.93 L386.78,181.63 L387.93,181.34 L389.08,181.06 L390.22,180.80 L391.37,180.54 L392.51,180.30 L393.66,180.07 L394.81,179.84 L395.95,179.63 L397.10,179.42 L398.25,179.22 L399.39,179.03 L400.54,178.85 L401.68,178.68 L402.83,178.51 L403.98,178.35 L405.12,178.20 L406.27,178.05 L407.42,177.91 L408.56,177.77 L409.71,177.64 L410.85,177.52 L412.00,177.40 L413.15,177.28 L414.29,177.17 L415.44,177.07 L416.58,176.96 L417.73,176.87 L418.88,176.77 L420.02,176.69 L421.17,176.60 L422.32,176.52 L423.46,176.44 L424.61,176.36 L425.75,176.29 L426.90,176.22 L428.05,176.16 L429.19,176.09 L430.34,176.03 L431.49,175.97 L432.63,175.92 L433.78,175.86 L434.92,175.81 L436.07,175.76 L437.22,175.71 L438.36,175.67 L439.51,175.62 L440.66,175.58 L441.80,175.54 L442.95,175.50 L444.09,175.47 L445.24,175.43 L446.39,175.40 L447.53,175.36 L448.68,175.33 L449.83,175.30 L450.97,175.27 L452.12,175.25 L453.26,175.22 L454.41,175.19 L455.56,175.17 L456.70,175.15 L457.85,175.12 L458.99,175.10 L460.14,175.08 L461.29,175.06 L462.43,175.04 L463.58,175.02 L464.73,175.01 L465.87,174.99 L467.02,174.97 L468.16,174.96 L469.31,174.94 L470.46,174.93 L471.60,174.92 L472.75,174.90 L473.90,174.89 L475.04,174.88 L476.19,174.87 L477.33,174.86 L478.48,174.85 L479.63,174.84 L480.77,174.83 L481.92,174.82 L483.07,174.81 L484.21,174.80 L485.36,174.79 L486.50,174.78 L487.65,174.78 L488.80,174.77 L489.94,174.76 L491.09,174.76 L492.24,174.75 L493.38,174.74 L494.53,174.74 L495.67,174.73 L496.82,174.73 L497.97,174.72 L499.11,174.72 L500.26,174.71 L501.40,174.71 L502.55,174.70 L503.70,174.70 L504.84,174.69 L505.99,174.69 L507.14,174.69 L508.28,174.68 L509.43,174.68 L510.57,174.68 L511.72,174.67 L512.87,174.67 L514.01,174.67 L515.16,174.66 L516.31,174.66 L517.45,174.66 L518.60,174.66 L519.74,174.65 L520.89,174.65 L522.04,174.65 L523.18,174.65 L524.33,174.65 L525.48,174.64 L526.62,174.64 L527.77,174.64 L528.91,174.64 L530.06,174.64 L531.21,174.64 L532.35,174.63 L533.50,174.63 L534.64,174.63 L535.79,174.63 L536.94,174.63 L538.08,174.63 L539.23,174.63 L540.38,174.63 L541.52,174.62 L542.67,174.62 L543.81,174.62 L544.96,174.62 L546.11,174.62 L547.25,174.62 L548.40,174.62 L549.55,174.62 L550.69,174.62 L551.84,174.62 L552.98,174.62 L554.13,174.62 L555.28,174.61 L556.42,174.61 L557.57,174.61 L558.72,174.61 L559.86,174.61 L561.01,174.61 L562.15,174.61 L563.30,174.61 L564.45,174.61 L565.59,174.61 L566.74,174.61 L567.89,174.61 L569.03,174.61 L570.18,174.61 L571.32,174.61 L572.47,174.61 L573.62,174.61 L574.76,174.61 L575.91,174.61 L577.05,174.61 L578.20,174.61 L579.35,174.61 L580.49,174.61 L581.64,174.61 L582.79,174.61 L583.93,174.61 L585.08,174.60 L586.22,174.60 L587.37,174.60 L588.52,174.60 L589.66,174.60 L590.81,174.60 L591.96,174.60 L593.10,174.60 L594.25,174.60 L595.39,174.60 L596.54,174.60 L597.69,174.60 L598.83,174.60 L599.98,174.60 L601.13,174.60 L602.27,174.60 L603.42,174.60 L604.56,174.60 L605.71,174.60 L606.86,174.60 L608.00,174.60 L609.15,174.60 L610.30,174.60 L611.44,174.60 L612.59,174.60 L613.73,174.60 L614.88,174.60 L616.03,174.60 L617.17,174.60 L618.32,174.60 L619.46,174.60 L620.61,174.60 L621.76,174.60" stroke="#ff00ff"/>
<path d="M346.67,134.12 L347.81,136.08 L348.96,137.93 L350.10,139.69 L351.25,141.36 L352.40,142.94 L353.54,144.44 L354.69,145.85 L355.84,147.20 L356.98,148.48 L358.13,149.69 L359.27,150.83 L360.42,151.92 L361.57,152.96 L362.71,153.94 L363.86,154.87 L365.01,155.76 L366.15,156.60 L367.30,157.40 L368.44,158.16 L369.59,158.89 L370.74,159.57 L371.88,160.23 L373.03,160.85 L374.17,161.44 L375.32,162.01 L376.47,162.54 L377.61,163.05 L378.76,163.54 L379.91,164.01 L381.05,164.45 L382.20,164.87 L383.34,165.27 L384.49,165.66 L385.64,166.02 L386.78,166.37 L387.93,166.70 L389.08,167.02 L390.22,167.32 L391.37,167.61 L392.51,167.89 L393.66,168.16 L394.81,168.41 L395.95,168.65 L397.10,168.88 L398.25,169.10 L399.39,169.32 L400.54,169.52 L401.68,169.71 L402.83,169.90 L403.98,170.08 L405.12,170.25 L406.27,170.41 L407.42,170.57 L408.56,170.72 L409.71,170.86 L410.85,171.00 L412.00,171.13 L413.15,171.26 L414.29,171.38 L415.44,171.50 L416.58,171.61 L417.73,171.72 L418.88,171.82 L420.02,171.92 L421.17,172.02 L422.32,172.11 L423.46,172.20 L424.61,172.28 L425.75,172.36 L426.90,172.44 L428.05,172.52 L429.19,172.59 L430.34,172.66 L431.49,172.73 L432.63,172.79 L433.78,172.85 L434.92,172.91 L436.07,172.97 L437.22,173.03 L438.36,173.08 L439.51,173.13 L440.66,173.18 L441.80,173.23 L442.95,173.28 L444.09,173.32 L445.24,173.36 L446.39,173.41 L447.53,173.45 L448.68,173.48 L449.83,173.52 L450.97,173.56 L452.12,173.59 L453.26,173.62 L454.41,173.66 L455.56,173.69 L456.70,173.72 L457.85,173.75 L458.99,173.78 L460.14,173.80 L461.29,173.83 L462.43,173.85 L463.58,173.88 L464.73,173.90 L465.87,173.92 L467.02,173.95 L468.16,173.97 L469.31,173.99 L470.46,174.01 L471.60,174.03 L472.75,174.05 L473.90,174.06 L475.04,174.08 L476.19,174.10 L477.33,174.11 L478.48,174.13 L479.63,174.14 L480.77,174.16 L481.92,174.17 L483.07,174.19 L484.21,174.20 L485.36,174.21 L486.50,174.22 L487.65,174.24 L488.80,174.25 L489.94,174.26 L491.09,174.27 L492.24,174.28 L493.38,174.29 L494.53,174.30 L495.67,174.31 L496.82,174.32 L497.97,174.33 L499.11,174.34 L500.26,174.34 L501.40,174.35 L502.55,174.36 L503.70,174.37 L504.84,174.38 L505.99,174.38 L507.14,174.39 L508.28,174.40 L509.43,174.40 L510.57,174.41 L511.72,174.41 L512.87,174.42 L514.01,174.43 L515.16,174.43 L516.31,174.44 L517.45,174.44 L518.60,174.45 L519.74,174.45 L520.89,174.46 L522.04,174.46 L523.18,174.47 L524.33,174.47 L525.48,174.47 L526.62,174.48 L527.77,174.48 L528.91,174.48 L530.06,174.49 L531.21,174.49 L532.35,174.50 L533.50,174.50 L534.64,174.50 L535.79,174.50 L536.94,174.51 L538.08,174.51 L539.23,174.51 L540.38,174.52 L541.52,174.52 L542.67,174.52 L543.81,174.52 L544.96,174.53 L546.11,174.53 L547.25,174.53 L548.40,174.53 L549.55,174.53 L550.69,174.54 L551.84,174.54 L552.98,174.54 L554.13,174.54 L555.28,174.54 L556.42,174.55 L557.57,174.55 L558.72,174.55 L559.86,174.55 L561.01,174.55 L562.15,174.55 L563.30,174.56 L564.45,174.56 L565.59,174.56 L566.74,174.56 L567.89,174.56 L569.03,174.56 L570.18,174.56 L571.32,174.56 L572.47,174.57 L573.62,174.57 L574.76,174.57 L575.91,174.57 L577.05,174.57 L578.20,174.57 L579.35,174.57 L580.49,174.57 L581.64,174.57 L582.79,174.57 L583.93,174.57 L585.08,174.58 L586.22,174.58 L587.37,174.58 L588.52,174.58 L589.66,174.58 L590.81,174.58 L591.96,174.58 L593.10,174.58 L594.25,174.58 L595.39,174.58 L596.54,174.58 L597.69,174.58 L598.83,174.58 L599.98,174.58 L601.13,174.58 L602.27,174.58 L603.42,174.59 L604.56,174.59 L605.71,174.59 L606.86,174.59 L608.00,174.59 L609.15,174.59 L610.30,174.59 L611.44,174.59 L612.59,174.59 L613.73,174.59 L614.88,174.59 L616.03,174.59 L617.17,174.59 L618.32,174.59 L619.46,174.59 L620.61,174.59 L621.76,174.59" stroke="#cc4c00"/>
</g>
<rect x="359.60" y="98.95" width="9.70" height="9.70" fill="#00ec18"/>
<rect x="435.45" y="151.30" width="9.70" height="9.70" fill="#00ec18"/>
<rect x="511.30" y="164.94" width="9.70" height="9.70" fill="#00ec18"/>
<rect x="587.15" y="168.50" width="9.70" height="9.70" fill="#00ec18"/>
<circle cx="364.45" cy="248.21" r="6.05" fill="#0000ff"/>
<circle cx="440.30" cy="189.00" r="6.05" fill="#0000ff"/>
<circle cx="516.15" cy="177.95" r="6.05" fill="#0000ff"/>
<circle cx="592.00" cy="175.42" r="6.05" fill="#0000ff"/>
<path d="M364.45,197.40 L358.50,187.55 L370.40,187.55 z" fill="#ff00ff"/>
<path d="M440.30,182.49 L434.35,172.64 L446.25,172.64 z" fill="#ff00ff"/>
<path d="M516.15,181.56 L510.20,171.71 L522.10,171.71 z" fill="#ff00ff"/>
<path d="M592.00,181.50 L586.05,171.65 L597.95,171.65 z" fill="#ff00ff"/>
<path d="M364.45,148.74 L358.50,158.64 L370.40,158.64 z" fill="#cc4c00"/>
<path d="M440.30,166.57 L434.35,176.47 L446.25,176.47 z" fill="#cc4c00"/>
<path d="M516.15,167.84 L510.20,177.74 L522.10,177.74 z" fill="#cc4c00"/>
<path d="M592.00,167.98 L586.05,177.88 L597.95,177.88 z" fill="#cc4c00"/>
<path d="M353.20,174.60 H616.50" stroke="#000" stroke-width="2.6" stroke-dasharray="9.1 18.55" fill="none"/>
<rect x="353.20" y="35.85" width="263.30" height="222.15" fill="none" stroke="#000" stroke-width="1.2"/>
<path d="M544.4,51.45 H603.5 M544.4,48.75 v5.4 M603.5,48.75 v5.4" stroke="#ff0000" stroke-width="0.95" fill="none"/>
<path d="M574.10,45.50 l5.95,5.95 l-5.95,5.95 l-5.95,-5.95 z" fill="#ff0000"/>
<text y="58.75" fill="#ff0000" font-size="22.20"><tspan x="485.6" font-family="Liberation Sans" font-style="italic" font-size="21.3">p</tspan><tspan x="502.3" dy="0.4" font-family="Liberation Serif">=</tspan><tspan x="519.9" dy="-0.4" font-family="Liberation Serif">1</tspan></text>
<path d="M544.4,73.43 H603.5 M544.4,70.73 v5.4 M603.5,70.73 v5.4" stroke="#00ec18" stroke-width="0.95" fill="none"/>
<rect x="569.25" y="68.58" width="9.70" height="9.70" fill="#00ec18"/>
<text y="80.73" fill="#00ec18" font-size="22.20"><tspan x="485.6" font-family="Liberation Sans" font-style="italic" font-size="21.3">p</tspan><tspan x="502.3" dy="0.4" font-family="Liberation Serif">=</tspan><tspan x="519.9" dy="-0.4" font-family="Liberation Serif">2</tspan></text>
<path d="M544.4,95.41 H603.5 M544.4,92.71 v5.4 M603.5,92.71 v5.4" stroke="#0000ff" stroke-width="0.95" fill="none"/>
<circle cx="574.10" cy="95.41" r="6.05" fill="#0000ff"/>
<text y="102.71" fill="#0000ff" font-size="22.20"><tspan x="485.6" font-family="Liberation Sans" font-style="italic" font-size="21.3">p</tspan><tspan x="502.3" dy="0.4" font-family="Liberation Serif">=</tspan><tspan x="519.9" dy="-0.4" font-family="Liberation Serif">3</tspan></text>
<path d="M544.4,117.39 H603.5 M544.4,114.69 v5.4 M603.5,114.69 v5.4" stroke="#ff00ff" stroke-width="0.95" fill="none"/>
<path d="M574.10,124.29 L568.15,114.44 L580.05,114.44 z" fill="#ff00ff"/>
<text y="124.69" fill="#ff00ff" font-size="22.20"><tspan x="485.6" font-family="Liberation Sans" font-style="italic" font-size="21.3">p</tspan><tspan x="502.3" dy="0.4" font-family="Liberation Serif">=</tspan><tspan x="519.9" dy="-0.4" font-family="Liberation Serif">4</tspan></text>
<path d="M544.4,139.37 H603.5 M544.4,136.67 v5.4 M603.5,136.67 v5.4" stroke="#cc4c00" stroke-width="0.95" fill="none"/>
<path d="M574.10,132.77 L568.15,142.67 L580.05,142.67 z" fill="#cc4c00"/>
<text y="146.67" fill="#cc4c00" font-size="22.20"><tspan x="485.6" font-family="Liberation Sans" font-style="italic" font-size="21.3">p</tspan><tspan x="502.3" dy="0.4" font-family="Liberation Serif">=</tspan><tspan x="519.9" dy="-0.4" font-family="Liberation Serif">5</tspan></text>
<g font-family="Liberation Serif" font-size="22.20" fill="#000">
<text x="117" y="428.30" text-anchor="end">0.0035</text>
<text x="117" y="379.04" text-anchor="end">0.004</text>
<text x="117" y="329.77" text-anchor="end">0.0045</text>
<text x="117" y="280.51" text-anchor="end">0.005</text>
<text x="117" y="231.25" text-anchor="end">0.0055</text>
<text x="117" y="181.99" text-anchor="end">0.006</text>
<text x="117" y="132.72" text-anchor="end">0.0065</text>
<text x="117" y="83.46" text-anchor="end">0.007</text>
<text x="117" y="34.20" text-anchor="end">0.0075</text>
<text x="155.20" y="449.9" text-anchor="middle">2</text>
<text x="207.30" y="449.9" text-anchor="middle">4</text>
<text x="259.40" y="449.9" text-anchor="middle">8</text>
<text x="311.50" y="449.9" text-anchor="middle">16</text>
<text x="363.60" y="449.9" text-anchor="middle">32</text>
<text x="415.70" y="449.9" text-anchor="middle">64</text>
<text x="467.80" y="449.9" text-anchor="middle">128</text>
<text x="519.90" y="449.9" text-anchor="middle">256</text>
<text x="572.00" y="449.9" text-anchor="middle">512</text>
<text x="624.10" y="449.9" text-anchor="middle">1024</text>
<text x="339.7" y="233.20" text-anchor="end">0.004</text>
<text x="339.7" y="179.00" text-anchor="end">0.0042</text>
<text x="339.7" y="124.80" text-anchor="end">0.0044</text>
<text x="339.7" y="70.60" text-anchor="end">0.0046</text>
<text x="367.05" y="287" text-anchor="middle">2</text>
<text x="442.90" y="287" text-anchor="middle">4</text>
<text x="518.75" y="287" text-anchor="middle">8</text>
<text x="594.60" y="287" text-anchor="middle">16</text>
</g>
</svg>
</body></html>
